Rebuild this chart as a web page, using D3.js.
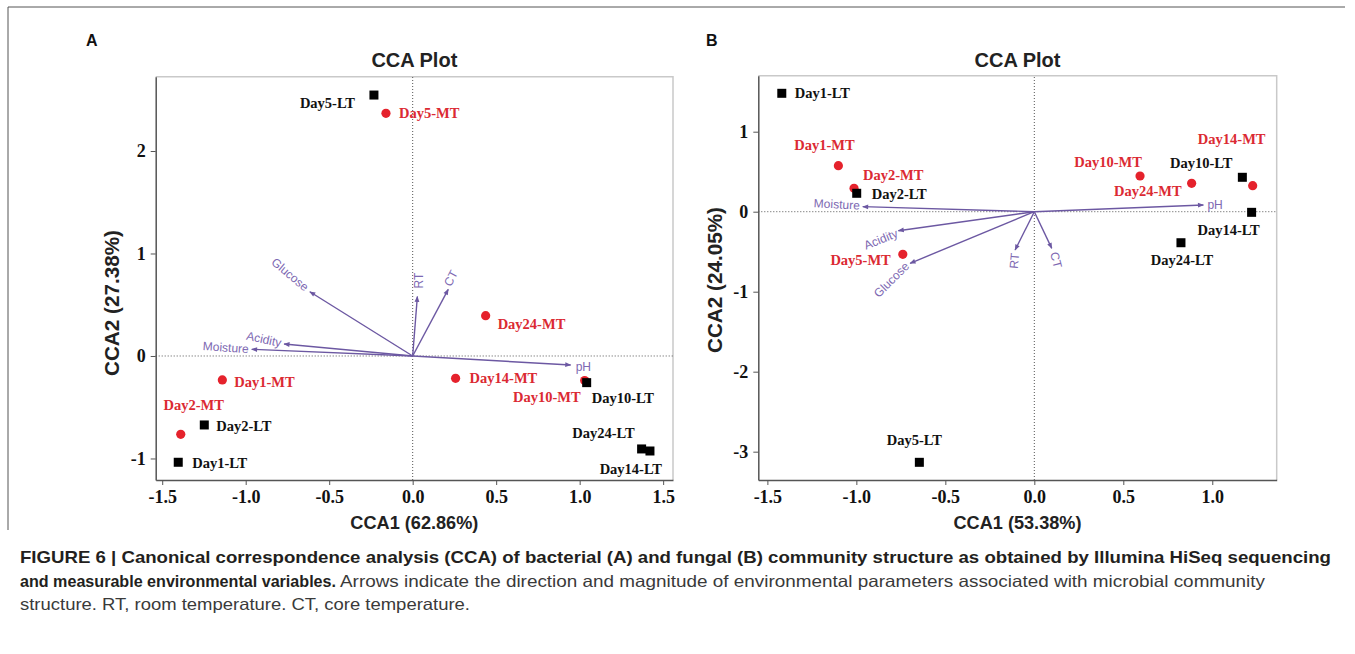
<!DOCTYPE html>
<html>
<head>
<meta charset="utf-8">
<script src="https://cdn.jsdelivr.net/npm/d3@7"></script>
<style>
  body { margin: 0; background: #fff; }
  svg { display: block; }
</style>
</head>
<body>
<div class="container"></div>
<script>
const WIDTH = 1355, HEIGHT = 654;

// ---- data: panel A (bacteria)
const samplesA = ["Day5-LT", "Day5-MT", "Day24-MT", "Day14-MT", "Day10-MT", "Day10-LT",
  "Day24-LT", "Day14-LT", "Day1-MT", "Day2-MT", "Day2-LT", "Day1-LT"];
const cca1A = [-0.232, -0.160, 0.437, 0.257, 1.030, 1.042, 1.371, 1.421, -1.140, -1.389, -1.248, -1.404];
const cca2A = [2.546, 2.368, 0.393, -0.218, -0.240, -0.260, -0.907, -0.927, -0.234, -0.764, -0.673, -1.037];

// ---- data: panel B (fungi)
const samplesB = ["Day1-LT", "Day1-MT", "Day2-MT", "Day2-LT", "Day5-MT", "Day5-LT",
  "Day10-MT", "Day24-MT", "Day10-LT", "Day14-MT", "Day14-LT", "Day24-LT"];
const cca1B = [-1.419, -1.101, -1.013, -0.998, -0.739, -0.646, 0.594, 0.884, 1.169, 1.227, 1.221, 0.824];
const cca2B = [1.480, 0.575, 0.293, 0.230, -0.533, -3.133, 0.446, 0.355, 0.430, 0.325, -0.008, -0.388];

// environmental vectors (biplot arrows)
const envVars = ["Moisture", "Acidity", "Glucose", "RT", "CT", "pH"];
const envA1 = [-0.964, -0.770, -0.616, 0.028, 0.213, 0.946];
const envA2 = [0.065, 0.117, 0.627, 0.580, 0.650, -0.088];
const envB1 = [-0.964, -0.764, -0.698, -0.108, 0.098, 0.950];
const envB2 = [0.063, -0.238, -0.645, -0.479, -0.458, 0.084];

// ticks
const xTicksA = [-1.5, -1, -0.5, 0, 0.5, 1, 1.5];
const yTicksA = [-1, 0, 1, 2];
const xTicksB = [-1.5, -1, -0.5, 0, 0.5, 1];
const yTicksB = [-3, -2, -1, 0, 1];

// label placement (layout only): [anchor, dx, dy] in px from the marker
const sampleLabelPosA = [["end", -19, 8], ["start", 13, 0], ["start", 12, 8], ["start", 14, 0],
  ["end", -4, 16], ["start", 5, 15], ["end", -7, -16], ["end", 12, 18],
  ["start", 12, 2], ["middle", 13, -29], ["start", 12, 1], ["start", 14, 1]];
const sampleLabelPosB = [["start", 13, 0], ["middle", -14, -21], ["start", 9, -13], ["start", 15, 1],
  ["end", -12, 6], ["middle", -5, -22], ["middle", -32, -14], ["end", -10, 8],
  ["end", -10, -14], ["middle", -21, -47], ["middle", -23, 18], ["middle", 1, 17]];
// [anchor, dx, dy, rotation] from the arrow tip
const envLabelPosA = [["end", -3, 0, 4], ["end", -3, -1, 12], ["end", -3, -3, 40],
  ["start", 2, -8, -90], ["start", -1, -4, -62], ["start", 5, 2, 0]];
const envLabelPosB = [["end", -3, -1, 3], ["end", -1, 2, -22], ["end", -3, 1, -45],
  ["end", 0, 3, -85], ["start", 2, 4, 75], ["start", 4, 0, 0]];

const RED = "#e5222c", ARROW = "#6c58a2", ARROW_TXT = "#7d68b2";
const SERIF = "'Liberation Serif', 'Times New Roman', serif";
const SANS = "'Liberation Sans', Arial, Helvetica, sans-serif";

const panels = [
  {
    letter: "A", letterX: 86, samples: samplesA, cca1: cca1A, cca2: cca2A,
    env1: envA1, env2: envA2, labelPos: sampleLabelPosA, envPos: envLabelPosA,
    xDomain: [-1.539, 1.559], yDomain: [-1.21, 2.725],
    xRange: [155.7, 673], yRange: [480, 76.7],
    xTicks: xTicksA, yTicks: yTicksA,
    xTitle: "CCA1 (62.86%)", yTitle: "CCA2 (27.38%)", yTitleX: 112, yTitleY: 303
  },
  {
    letter: "B", letterX: 706, samples: samplesB, cca1: cca1B, cca2: cca2B,
    env1: envB1, env2: envB2, labelPos: sampleLabelPosB, envPos: envLabelPosB,
    xDomain: [-1.551, 1.362], yDomain: [-3.354, 1.70],
    xRange: [758.3, 1276.7], yRange: [480, 75.7],
    xTicks: xTicksB, yTicks: yTicksB,
    xTitle: "CCA1 (53.38%)", yTitle: "CCA2 (24.05%)", yTitleX: 715, yTitleY: 280
  }
];

const svg = d3.select(".container")
  .append("svg")
  .attr("width", WIDTH)
  .attr("height", HEIGHT)
  .attr("viewBox", [0, 0, WIDTH, HEIGHT]);

svg.append("defs").append("marker")
  .attr("id", "tip")
  .attr("viewBox", "0 0 10 10")
  .attr("refX", 9).attr("refY", 5)
  .attr("markerUnits", "userSpaceOnUse")
  .attr("markerWidth", 7).attr("markerHeight", 6)
  .attr("orient", "auto")
  .append("path")
  .attr("d", "M0,1 L10,5 L0,9 Z")
  .attr("fill", ARROW);

// figure frame (top + left rule)
svg.append("path")
  .attr("d", "M8,530 V7 H1345")
  .attr("fill", "none")
  .attr("stroke", "#555")
  .attr("stroke-width", 1);

panels.forEach(drawPanel);

function drawPanel(p) {
  const x = d3.scaleLinear().domain(p.xDomain).range(p.xRange);
  const y = d3.scaleLinear().domain(p.yDomain).range(p.yRange);
  const g = svg.append("g");
  const [x0, x1] = p.xRange, [y0, y1] = p.yRange;

  // panel letter and title
  g.append("text")
    .attr("x", p.letterX).attr("y", 46)
    .attr("font-family", SANS).attr("font-weight", "bold")
    .attr("font-size", 16).attr("fill", "#111")
    .text(p.letter);
  g.append("text")
    .attr("x", (x0 + x1) / 2).attr("y", 67)
    .attr("text-anchor", "middle")
    .attr("font-family", SANS).attr("font-weight", "bold")
    .attr("font-size", 20).attr("fill", "#222")
    .text("CCA Plot");

  // light top/right box edges
  g.append("path")
    .attr("d", `M${x0},${y1} H${x1} V${y0}`)
    .attr("fill", "none").attr("stroke", "#c9c9c9").attr("stroke-width", 1.5);

  // zero reference lines
  g.append("line")
    .attr("x1", x0).attr("x2", x1).attr("y1", y(0)).attr("y2", y(0))
    .attr("stroke", "#555").attr("stroke-width", 1).attr("stroke-dasharray", "1,2");
  g.append("line")
    .attr("x1", x(0)).attr("x2", x(0)).attr("y1", y0).attr("y2", y1)
    .attr("stroke", "#555").attr("stroke-width", 1).attr("stroke-dasharray", "1,2");

  // axes
  const styleAxis = (sel) => {
    sel.select(".domain").attr("stroke", "#555").attr("stroke-width", 1.5);
    sel.selectAll(".tick line").attr("stroke", "#555").attr("stroke-width", 1);
    sel.selectAll(".tick text")
      .attr("font-family", SERIF).attr("font-weight", "bold")
      .attr("font-size", 18).attr("fill", "#111");
  };
  g.append("g")
    .attr("transform", `translate(0,${y0})`)
    .call(d3.axisBottom(x).tickValues(p.xTicks).tickSize(5).tickSizeOuter(0)
      .tickPadding(5).tickFormat((d) => d.toFixed(1)))
    .call(styleAxis);
  g.append("g")
    .attr("transform", `translate(${x0},0)`)
    .call(d3.axisLeft(y).tickValues(p.yTicks).tickSize(5).tickSizeOuter(0)
      .tickPadding(5).tickFormat((d) => String(d)))
    .call(styleAxis);

  // axis titles
  g.append("text")
    .attr("x", (x0 + x1) / 2).attr("y", 529)
    .attr("text-anchor", "middle")
    .attr("font-family", SANS).attr("font-weight", "bold")
    .attr("font-size", 19).attr("fill", "#222")
    .attr("textLength", 128).attr("lengthAdjust", "spacingAndGlyphs")
    .text(p.xTitle);
  g.append("text")
    .attr("transform", `translate(${p.yTitleX + 7},${p.yTitleY}) rotate(-90)`)
    .attr("text-anchor", "middle")
    .attr("font-family", SANS).attr("font-weight", "bold")
    .attr("font-size", 20).attr("fill", "#222")
    .attr("textLength", 146).attr("lengthAdjust", "spacingAndGlyphs")
    .text(p.yTitle);

  // environmental arrows
  const env = envVars.map((name, i) => ({ name, e1: p.env1[i], e2: p.env2[i], pos: p.envPos[i] }));
  g.append("g")
    .selectAll("line")
    .data(env)
    .join("line")
    .attr("x1", x(0)).attr("y1", y(0))
    .attr("x2", (d) => x(d.e1)).attr("y2", (d) => y(d.e2))
    .attr("stroke", ARROW).attr("stroke-width", 1.4)
    .attr("marker-end", "url(#tip)");
  g.append("g")
    .selectAll("text")
    .data(env)
    .join("text")
    .attr("transform", (d) =>
      `translate(${x(d.e1) + d.pos[1]},${y(d.e2) + d.pos[2]}) rotate(${d.pos[3]})`)
    .attr("text-anchor", (d) => d.pos[0])
    .attr("dominant-baseline", "central")
    .attr("font-family", SANS).attr("font-size", 12)
    .attr("fill", ARROW_TXT)
    .text((d) => d.name);

  // samples
  const pts = p.samples.map((name, i) => ({
    name, c1: p.cca1[i], c2: p.cca2[i], pos: p.labelPos[i], mt: name.endsWith("MT")
  }));
  const marks = g.append("g");
  marks.selectAll("circle")
    .data(pts.filter((d) => d.mt))
    .join("circle")
    .attr("cx", (d) => x(d.c1)).attr("cy", (d) => y(d.c2))
    .attr("r", 4.6).attr("fill", RED);
  marks.selectAll("rect")
    .data(pts.filter((d) => !d.mt))
    .join("rect")
    .attr("x", (d) => x(d.c1) - 4.5).attr("y", (d) => y(d.c2) - 4.5)
    .attr("width", 9).attr("height", 9).attr("fill", "#000");
  g.append("g")
    .selectAll("text")
    .data(pts)
    .join("text")
    .attr("x", (d) => x(d.c1) + d.pos[1])
    .attr("y", (d) => y(d.c2) + d.pos[2])
    .attr("text-anchor", (d) => d.pos[0])
    .attr("dominant-baseline", "central")
    .attr("font-family", SERIF).attr("font-weight", "bold")
    .attr("font-size", 14.5)
    .attr("fill", (d) => (d.mt ? "#db2a33" : "#111"))
    .text((d) => d.name);
}

// caption
const cap = svg.append("g").attr("font-family", SANS).attr("font-size", 16.5).attr("fill", "#231f20");
cap.append("text")
  .attr("x", 20).attr("y", 563)
  .attr("font-weight", "bold")
  .attr("textLength", 1311).attr("lengthAdjust", "spacingAndGlyphs")
  .text("FIGURE 6 | Canonical correspondence analysis (CCA) of bacterial (A) and fungal (B) community structure as obtained by Illumina HiSeq sequencing");
cap.append("text")
  .attr("x", 20).attr("y", 587)
  .attr("font-weight", "bold")
  .attr("textLength", 316).attr("lengthAdjust", "spacingAndGlyphs")
  .text("and measurable environmental variables.");
cap.append("text")
  .attr("x", 340).attr("y", 587)
  .attr("fill", "#3a3a3a")
  .attr("textLength", 925).attr("lengthAdjust", "spacingAndGlyphs")
  .text("Arrows indicate the direction and magnitude of environmental parameters associated with microbial community");
cap.append("text")
  .attr("x", 20).attr("y", 610)
  .attr("fill", "#3a3a3a")
  .attr("textLength", 450).attr("lengthAdjust", "spacingAndGlyphs")
  .text("structure. RT, room temperature. CT, core temperature.");
</script>
</body>
</html>
